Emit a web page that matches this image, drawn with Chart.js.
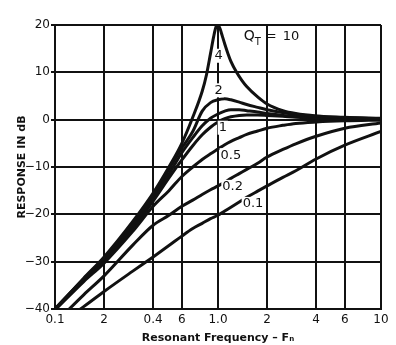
<!DOCTYPE html>
<html>
<head>
<meta charset="utf-8">
<script src="https://cdn.jsdelivr.net/npm/chart.js@4.4.1/dist/chart.umd.min.js"></script>
<style>
  html, body { margin: 0; padding: 0; background: #fff; }
  #wrap { width: 396px; height: 345px; }
</style>
</head>
<body>
<div id="wrap"><canvas id="responseChart" width="396" height="345"></canvas></div>
<script>
// frequency relative to resonance, response in dB
const freq = [0.1, 0.15, 0.2, 0.3, 0.4, 0.5, 0.6, 0.7, 0.8, 0.9, 1.0, 1.1, 1.2, 1.35, 1.5, 1.75, 2, 2.5, 3, 4, 6, 10];
const freqPeak = [0.1, 0.15, 0.2, 0.3, 0.4, 0.5, 0.6, 0.7, 0.8, 0.85, 0.9, 0.94, 0.97, 1.0, 1.03, 1.06, 1.1, 1.15, 1.2, 1.3, 1.4, 1.5, 1.75, 2, 2.5, 3, 4, 6, 10];

const q10 = [-40, -33.5, -29, -21.5, -15.5, -10, -5, 0.5, 6, 9.5, 14, 17.5, 19.5, 20, 19.2, 17.8, 16, 14, 12.3, 10, 8.3, 7, 4.8, 3.3, 1.9, 1.3, 0.8, 0.5, 0.3];
const q4 = [-40, -33.6, -29.3, -22, -16, -10.5, -6, -2.5, 1.8, 3.6, 4.2, 4.4, 4.2, 3.7, 3.2, 2.6, 2.1, 1.5, 1.1, 0.7, 0.4, 0.2];
const q2 = [-40, -33.8, -29.6, -22.5, -16.5, -11.5, -7, -3.8, -1.3, 0.3, 1.2, 1.8, 2.1, 2.1, 1.9, 1.6, 1.3, 0.9, 0.7, 0.4, 0.2, 0.1];
const q1 = [-40, -34, -30, -23, -17.2, -12.3, -8.5, -5.5, -3.2, -1.6, -0.5, 0.2, 0.6, 0.9, 1.0, 1.0, 0.9, 0.7, 0.5, 0.3, 0.15, 0.05];
const q05 = [-40.2, -34.2, -30.3, -23.6, -18.3, -15, -12, -10, -8.4, -7.2, -6.2, -5.3, -4.6, -3.8, -3.1, -2.4, -1.8, -1.2, -0.8, -0.5, -0.25, -0.1];
const q02 = [-43, -37, -33, -26.5, -22.3, -20.2, -18.3, -17, -15.8, -14.8, -14, -13.2, -12.4, -11.4, -10.5, -9.2, -7.9, -6.3, -5.1, -3.5, -1.8, -0.7];
const q01 = [-43.5, -39.5, -36.3, -32, -29, -26.6, -24.6, -23, -21.9, -20.9, -20.2, -19.3, -18.5, -17.4, -16.4, -15.1, -14, -12.2, -10.8, -8.3, -5.4, -2.5];

const xTicks = [0.1, 0.2, 0.4, 0.6, 1, 2, 4, 6, 10];
const xTickLabels = ['0.1', '2', '0.4', '6', '1.0', '2', '4', '6', '10'];
const yTicks = [-40, -30, -20, -10, 0, 10, 20];
const yTickLabels = ['−40', '−30', '−20', '−10', '0', '10', '20'];

// curve labels written on the plot
const curveLabels = ['4', '2', '1', '0.5', '0.2', '0.1'];
const curveLabelX = [1.01, 1.01, 1.07, 1.2, 1.23, 1.64];
const curveLabelY = [13.5, 6.2, -1.7, -7.5, -14.2, -17.8];

const toPoints = (xs, ys) => xs.map((x, i) => ({ x: x, y: ys[i] }));

const lineStyle = {
    borderColor: '#111',
    borderWidth: 3,
    pointRadius: 0,
    fill: false,
    cubicInterpolationMode: 'monotone'
};

const labelPlugin = {
    id: 'curveLabels',
    afterDatasetsDraw(chart) {
        const { ctx, scales: { x, y } } = chart;
        ctx.save();
        ctx.font = '13px "DejaVu Sans", sans-serif';
        ctx.textBaseline = 'middle';
        ctx.textAlign = 'center';
        curveLabels.forEach((t, i) => {
            const px = x.getPixelForValue(curveLabelX[i]);
            const py = y.getPixelForValue(curveLabelY[i]);
            const w = ctx.measureText(t).width;
            ctx.fillStyle = '#fff';
            ctx.fillRect(px - w / 2 - 1, py - 7, w + 2, 14);
            ctx.fillStyle = '#111';
            ctx.fillText(t, px, py);
        });
        // Q_T = 10
        const qx = x.getPixelForValue(1.44);
        const qy = y.getPixelForValue(17.5);
        ctx.textAlign = 'left';
        ctx.font = '14px "DejaVu Sans", sans-serif';
        ctx.fillText('Q', qx, qy);
        const qw = ctx.measureText('Q').width;
        ctx.font = '10px "DejaVu Sans", sans-serif';
        ctx.fillText('T', qx + qw, qy + 6);
        ctx.font = '13px "DejaVu Sans", sans-serif';
        ctx.fillText('=', qx + 22, qy);
        ctx.fillText('10', qx + 39, qy);
        ctx.restore();
    }
};

const ctx = document.getElementById('responseChart').getContext('2d');
new Chart(ctx, {
    type: 'line',
    data: {
        datasets: [
            { label: '10', data: toPoints(freqPeak, q10), ...lineStyle },
            { label: '4', data: toPoints(freq, q4), ...lineStyle },
            { label: '2', data: toPoints(freq, q2), ...lineStyle },
            { label: '1', data: toPoints(freq, q1), ...lineStyle },
            { label: '0.5', data: toPoints(freq, q05), ...lineStyle },
            { label: '0.2', data: toPoints(freq, q02), ...lineStyle },
            { label: '0.1', data: toPoints(freq, q01), ...lineStyle }
        ]
    },
    options: {
        responsive: false,
        devicePixelRatio: 1,
        animation: false,
        layout: { padding: { top: 25, right: 15, left: 0, bottom: 0 } },
        plugins: {
            legend: { display: false },
            tooltip: { enabled: false }
        },
        scales: {
            x: {
                type: 'logarithmic',
                min: 0.1,
                max: 10,
                afterBuildTicks: s => { s.ticks = xTicks.map(v => ({ value: v })); },
                afterFit: s => { s.height = 36; },
                grid: { color: '#111', lineWidth: 2, tickLength: 0 },
                border: { color: '#111', width: 2 },
                ticks: {
                    color: '#111',
                    padding: 4,
                    maxRotation: 0,
                    autoSkip: false,
                    font: { family: '"DejaVu Sans", sans-serif', size: 12 },
                    callback: (v, i) => xTickLabels[i]
                },
                title: {
                    display: true,
                    text: 'Resonant Frequency – Fₙ',
                    color: '#111',
                    padding: { top: 2, bottom: 0 },
                    font: { family: '"DejaVu Sans", sans-serif', size: 11, weight: 'bold' }
                }
            },
            y: {
                min: -40,
                max: 20,
                afterBuildTicks: s => { s.ticks = yTicks.map(v => ({ value: v })); },
                afterFit: s => { s.width = 55; },
                grid: { color: '#111', lineWidth: 2, tickLength: 4 },
                border: { color: '#111', width: 2 },
                ticks: {
                    color: '#111',
                    padding: 1,
                    font: { family: '"DejaVu Sans", sans-serif', size: 12 },
                    callback: (v, i) => yTickLabels[i]
                },
                title: {
                    display: true,
                    text: 'RESPONSE IN dB',
                    color: '#111',
                    padding: { top: 16, bottom: 4 },
                    font: { family: '"DejaVu Sans", sans-serif', size: 11, weight: 'bold' }
                }
            }
        }
    },
    plugins: [labelPlugin]
});
</script>
</body>
</html>
